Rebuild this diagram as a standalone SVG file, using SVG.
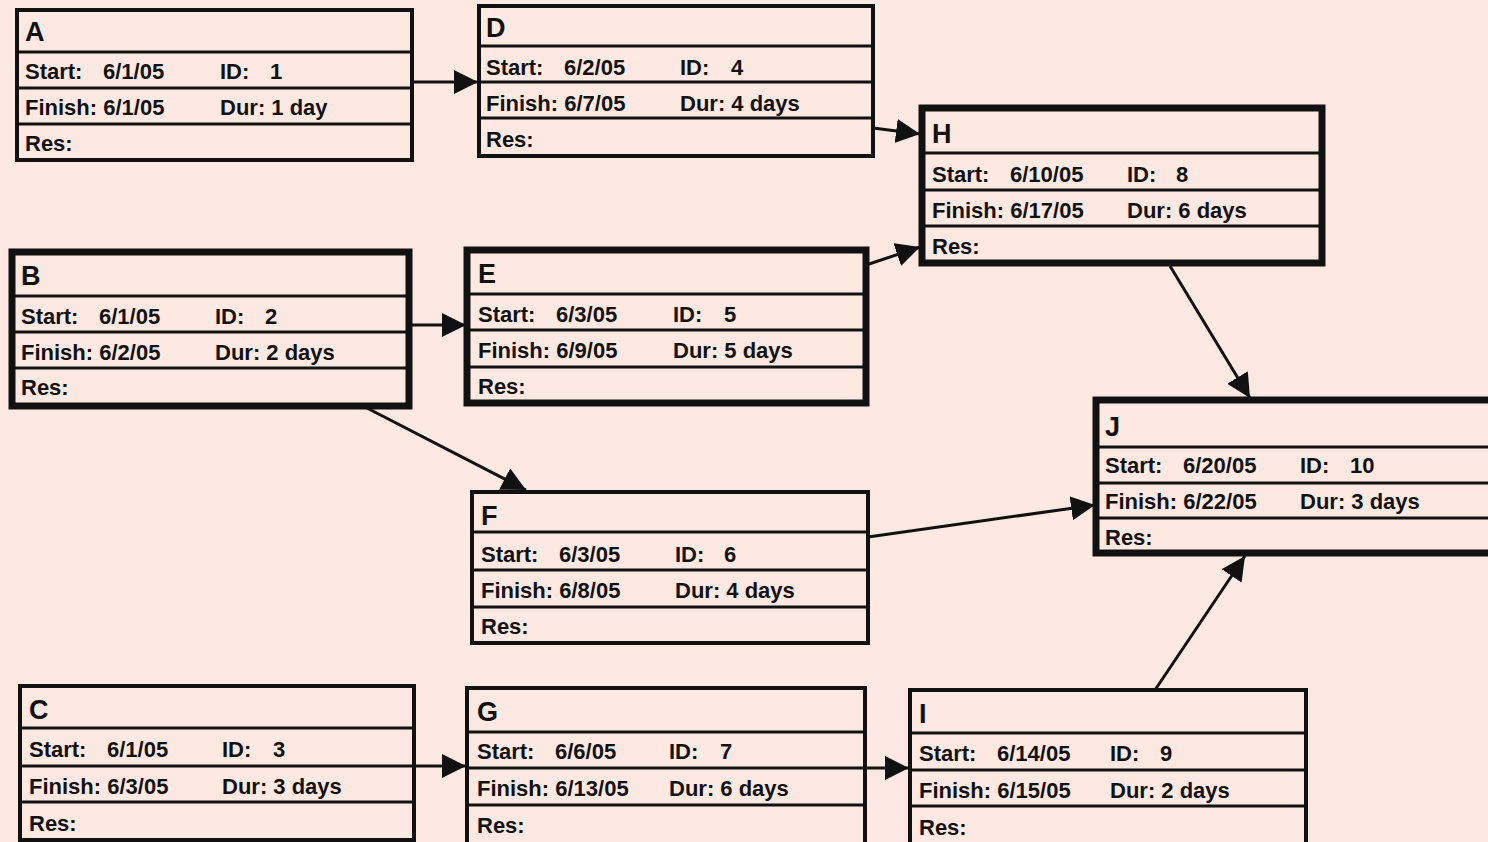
<svg xmlns="http://www.w3.org/2000/svg" width="1488" height="842" viewBox="0 0 1488 842">
<style>
.bg{fill:#fde9e2}
.box{fill:none;stroke:#111;stroke-width:4}
.crit{fill:none;stroke:#111;stroke-width:7}
.row{stroke:#111;stroke-width:3}
.t{font-family:"Liberation Sans",Arial,sans-serif;font-weight:bold;font-size:22px;fill:#111}
.h{font-family:"Liberation Sans",Arial,sans-serif;font-weight:bold;font-size:27px;fill:#111}
.c{fill:none;stroke:#111;stroke-width:3}
</style>
<defs>
<marker id="ah" markerUnits="userSpaceOnUse" markerWidth="26" markerHeight="24" refX="24" refY="12" orient="auto">
<path d="M0,0 L24,12 L0,24 Z" fill="#111"/>
</marker>
</defs>
<rect class="bg" x="0" y="0" width="1488" height="842"/>
<g id="connectors">
<line class="c" x1="412" y1="82" x2="478" y2="82" marker-end="url(#ah)"/>
<line class="c" x1="873" y1="128" x2="920" y2="134" marker-end="url(#ah)"/>
<line class="c" x1="866" y1="265" x2="920" y2="247" marker-end="url(#ah)"/>
<line class="c" x1="409" y1="325" x2="466" y2="325" marker-end="url(#ah)"/>
<line class="c" x1="365" y1="407" x2="526" y2="490" marker-end="url(#ah)"/>
<line class="c" x1="1170" y1="266" x2="1250" y2="398" marker-end="url(#ah)"/>
<line class="c" x1="868" y1="537" x2="1095" y2="505" marker-end="url(#ah)"/>
<line class="c" x1="1155" y1="690" x2="1245" y2="556" marker-end="url(#ah)"/>
<line class="c" x1="414" y1="766" x2="466" y2="766" marker-end="url(#ah)"/>
<line class="c" x1="865" y1="768" x2="909" y2="768" marker-end="url(#ah)"/>
</g>
<g id="node-A">
<rect class="box" x="17" y="10" width="395" height="150"/>
<line class="row" x1="17" y1="52" x2="412" y2="52"/><line class="row" x1="17" y1="88" x2="412" y2="88"/><line class="row" x1="17" y1="124" x2="412" y2="124"/>
<text class="h" x="25" y="41">A</text>
<text class="t" x="25" y="79">Start:</text><text class="t" x="103" y="79">6/1/05</text><text class="t" x="220" y="79">ID:</text><text class="t" x="270" y="79">1</text>
<text class="t" x="25" y="115">Finish: 6/1/05</text><text class="t" x="220" y="115">Dur: 1 day</text>
<text class="t" x="25" y="151">Res:</text>
</g>
<g id="node-D">
<rect class="box" x="479" y="6" width="394" height="150"/>
<line class="row" x1="479" y1="46" x2="873" y2="46"/><line class="row" x1="479" y1="82" x2="873" y2="82"/><line class="row" x1="479" y1="118" x2="873" y2="118"/>
<text class="h" x="486" y="37">D</text>
<text class="t" x="486" y="75">Start:</text><text class="t" x="564" y="75">6/2/05</text><text class="t" x="680" y="75">ID:</text><text class="t" x="731" y="75">4</text>
<text class="t" x="486" y="111">Finish: 6/7/05</text><text class="t" x="680" y="111">Dur: 4 days</text>
<text class="t" x="486" y="147">Res:</text>
</g>
<g id="node-H">
<rect class="crit" x="922" y="108" width="400" height="155"/>
<line class="row" x1="922" y1="153" x2="1322" y2="153"/><line class="row" x1="922" y1="190" x2="1322" y2="190"/><line class="row" x1="922" y1="226" x2="1322" y2="226"/>
<text class="h" x="932" y="143">H</text>
<text class="t" x="932" y="182">Start:</text><text class="t" x="1010" y="182">6/10/05</text><text class="t" x="1127" y="182">ID:</text><text class="t" x="1176" y="182">8</text>
<text class="t" x="932" y="218">Finish: 6/17/05</text><text class="t" x="1127" y="218">Dur: 6 days</text>
<text class="t" x="932" y="254">Res:</text>
</g>
<g id="node-B">
<rect class="crit" x="12" y="252" width="397" height="154"/>
<line class="row" x1="12" y1="296" x2="409" y2="296"/><line class="row" x1="12" y1="332" x2="409" y2="332"/><line class="row" x1="12" y1="368" x2="409" y2="368"/>
<text class="h" x="21" y="285">B</text>
<text class="t" x="21" y="324">Start:</text><text class="t" x="99" y="324">6/1/05</text><text class="t" x="215" y="324">ID:</text><text class="t" x="265" y="324">2</text>
<text class="t" x="21" y="360">Finish: 6/2/05</text><text class="t" x="215" y="360">Dur: 2 days</text>
<text class="t" x="21" y="395">Res:</text>
</g>
<g id="node-E">
<rect class="crit" x="467" y="250" width="399" height="153"/>
<line class="row" x1="467" y1="294" x2="866" y2="294"/><line class="row" x1="467" y1="330" x2="866" y2="330"/><line class="row" x1="467" y1="367" x2="866" y2="367"/>
<text class="h" x="478" y="283">E</text>
<text class="t" x="478" y="322">Start:</text><text class="t" x="556" y="322">6/3/05</text><text class="t" x="673" y="322">ID:</text><text class="t" x="724" y="322">5</text>
<text class="t" x="478" y="358">Finish: 6/9/05</text><text class="t" x="673" y="358">Dur: 5 days</text>
<text class="t" x="478" y="394">Res:</text>
</g>
<g id="node-F">
<rect class="box" x="472" y="492" width="396" height="151"/>
<line class="row" x1="472" y1="532" x2="868" y2="532"/><line class="row" x1="472" y1="570" x2="868" y2="570"/><line class="row" x1="472" y1="607" x2="868" y2="607"/>
<text class="h" x="481" y="525">F</text>
<text class="t" x="481" y="562">Start:</text><text class="t" x="559" y="562">6/3/05</text><text class="t" x="675" y="562">ID:</text><text class="t" x="724" y="562">6</text>
<text class="t" x="481" y="598">Finish: 6/8/05</text><text class="t" x="675" y="598">Dur: 4 days</text>
<text class="t" x="481" y="634">Res:</text>
</g>
<g id="node-J">
<rect class="crit" x="1096" y="400" width="400" height="153"/>
<line class="row" x1="1096" y1="447" x2="1488" y2="447"/><line class="row" x1="1096" y1="483" x2="1488" y2="483"/><line class="row" x1="1096" y1="518" x2="1488" y2="518"/>
<text class="h" x="1105" y="436">J</text>
<text class="t" x="1105" y="473">Start:</text><text class="t" x="1183" y="473">6/20/05</text><text class="t" x="1300" y="473">ID:</text><text class="t" x="1350" y="473">10</text>
<text class="t" x="1105" y="509">Finish: 6/22/05</text><text class="t" x="1300" y="509">Dur: 3 days</text>
<text class="t" x="1105" y="545">Res:</text>
</g>
<g id="node-C">
<rect class="box" x="20" y="686" width="394" height="154"/>
<line class="row" x1="20" y1="728" x2="414" y2="728"/><line class="row" x1="20" y1="766" x2="414" y2="766"/><line class="row" x1="20" y1="802" x2="414" y2="802"/>
<text class="h" x="29" y="719">C</text>
<text class="t" x="29" y="757">Start:</text><text class="t" x="107" y="757">6/1/05</text><text class="t" x="222" y="757">ID:</text><text class="t" x="273" y="757">3</text>
<text class="t" x="29" y="794">Finish: 6/3/05</text><text class="t" x="222" y="794">Dur: 3 days</text>
<text class="t" x="29" y="831">Res:</text>
</g>
<g id="node-G">
<rect class="box" x="467" y="688" width="398" height="156"/>
<line class="row" x1="467" y1="732" x2="865" y2="732"/><line class="row" x1="467" y1="768" x2="865" y2="768"/><line class="row" x1="467" y1="805" x2="865" y2="805"/>
<text class="h" x="477" y="721">G</text>
<text class="t" x="477" y="759">Start:</text><text class="t" x="555" y="759">6/6/05</text><text class="t" x="669" y="759">ID:</text><text class="t" x="720" y="759">7</text>
<text class="t" x="477" y="796">Finish: 6/13/05</text><text class="t" x="669" y="796">Dur: 6 days</text>
<text class="t" x="477" y="833">Res:</text>
</g>
<g id="node-I">
<rect class="box" x="910" y="690" width="396" height="156"/>
<line class="row" x1="910" y1="733" x2="1306" y2="733"/><line class="row" x1="910" y1="770" x2="1306" y2="770"/><line class="row" x1="910" y1="806" x2="1306" y2="806"/>
<text class="h" x="919" y="723">I</text>
<text class="t" x="919" y="761">Start:</text><text class="t" x="997" y="761">6/14/05</text><text class="t" x="1110" y="761">ID:</text><text class="t" x="1160" y="761">9</text>
<text class="t" x="919" y="798">Finish: 6/15/05</text><text class="t" x="1110" y="798">Dur: 2 days</text>
<text class="t" x="919" y="835">Res:</text>
</g>
</svg>
